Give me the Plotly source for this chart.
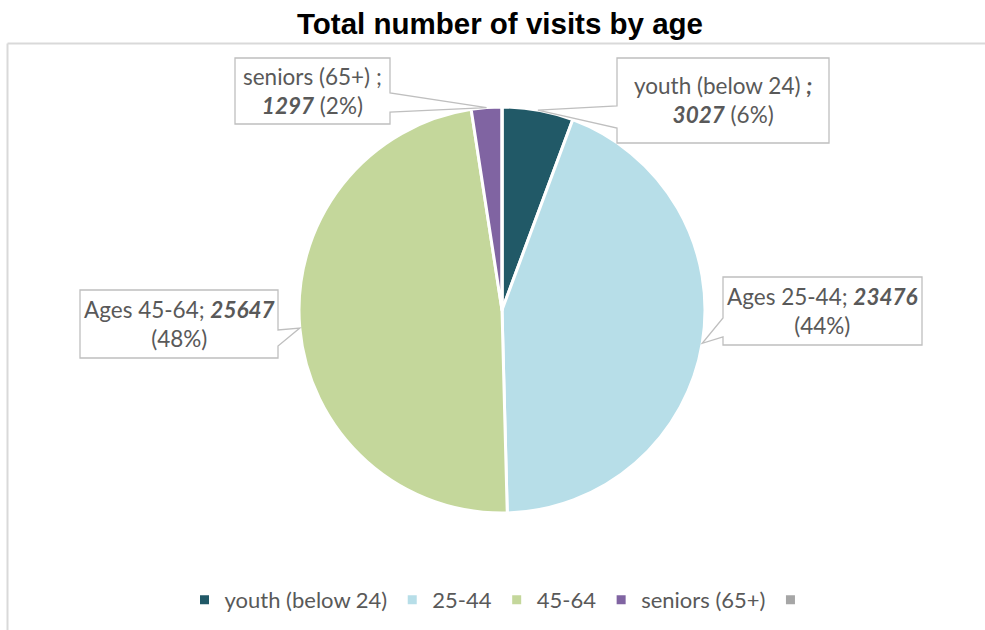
import math
import plotly.graph_objects as go

# ---- data ----
categories = ["youth (below 24)", "25-44", "45-64", "seniors (65+)", " "]
visits = [3027, 23476, 25647, 1297, 0]
label_names = ["youth (below 24)", "Ages 25-44", "Ages 45-64", "seniors (65+)"]
colors = ["#215967", "#b7dee8", "#c4d79b", "#8064a2", "#a6a6a6"]
title_text = "Total number of visits by age"

W, H = 985, 630
FONT = "Lato"
TXT = "#595959"

# pie geometry (pixels)
cx, cy, r = 502, 310, 203
dom_x = [(cx - r) / W, (cx + r) / W]
dom_y = [1 - (cy + r) / H, 1 - (cy - r) / H]

def px(x):
    return x / W

def py(y):
    return 1 - y / H

fig = go.Figure()
fig.add_trace(go.Pie(
    labels=categories,
    values=visits,
    sort=False,
    direction="clockwise",
    rotation=0,
    marker=dict(colors=colors, line=dict(color="white", width=3)),
    textinfo="none",
    domain=dict(x=dom_x, y=dom_y),
    showlegend=True,
))

# callout text built from the data
total = sum(visits)
pcts = [round(v / total * 100) for v in visits]
texts = [
    f"{label_names[0]} <b><i>;</i></b><br><b><i>{visits[0]}</i></b> ({pcts[0]}%)",
    f"{label_names[1]}; <b><i>{visits[1]}</i></b><br>({pcts[1]}%)",
    f"{label_names[2]}; <b><i>{visits[2]}</i></b><br>({pcts[2]}%)",
    f"{label_names[3]} ;<br><b><i>{visits[3]}</i></b> ({pcts[3]}%)",
]

# callout boxes: (x0, y0, x1, y1, side, base_a, base_b) in pixels
boxes = [
    (617, 58, 829, 143, "left", 106, 128),
    (723, 277, 922, 345, "left", 318, 337),
    (80, 290, 278, 358, "right", 330, 346),
    (235, 58, 390, 124, "right", 93, 112),
]

shapes = []
annotations = []
cum = 0
for i in range(4):
    v = visits[i]
    a = 2 * math.pi * (cum + v / 2) / total
    cum += v
    tx = cx + r * math.sin(a)
    ty = cy - r * math.cos(a)
    x0, y0, x1, y1, side, ba, bb = boxes[i]
    if side == "left":
        pts = [(x0, y0), (x1, y0), (x1, y1), (x0, y1), (x0, bb), (tx, ty), (x0, ba)]
    else:
        pts = [(x0, y0), (x1, y0), (x1, ba), (tx, ty), (x1, bb), (x1, y1), (x0, y1)]
    path = "M " + " L ".join(f"{px(p[0]):.5f},{py(p[1]):.5f}" for p in pts) + " Z"
    shapes.append(dict(type="path", xref="paper", yref="paper", path=path,
                       fillcolor="white", line=dict(color="#bfbfbf", width=1.3), layer="above"))
    annotations.append(dict(
        x=px((x0 + x1) / 2), y=py((y0 + y1) / 2), xref="paper", yref="paper",
        text=texts[i], showarrow=False, align="center",
        xanchor="center", yanchor="middle",
        font=dict(family=FONT, size=22.5, color=TXT),
    ))

# chart area border (top and left edges visible)
shapes.append(dict(type="line", xref="paper", yref="paper",
                   x0=px(7.5), x1=1.0, y0=py(43.5), y1=py(43.5),
                   line=dict(color="#d9d9d9", width=2)))
shapes.append(dict(type="line", xref="paper", yref="paper",
                   x0=px(7.5), x1=px(7.5), y0=py(43.5), y1=0,
                   line=dict(color="#d9d9d9", width=2)))

fig.update_layout(
    width=W, height=H,
    margin=dict(l=0, r=0, t=0, b=0),
    paper_bgcolor="white", plot_bgcolor="white",
    title=dict(text=f"<b>{title_text}</b>", x=500 / W, xanchor="center",
               y=1 - 24 / H, yanchor="middle", yref="container",
               font=dict(family="Liberation Sans", size=29.5, color="black")),
    legend=dict(orientation="h", x=503 / W, xanchor="center", y=py(600), yanchor="middle",
                font=dict(family=FONT, size=22, color=TXT), traceorder="normal",
                itemwidth=30),
    shapes=shapes,
    annotations=annotations,
)

fig.write_html("out.html", config={"displayModeBar": False},
               post_script="document.body.style.margin='0';")
